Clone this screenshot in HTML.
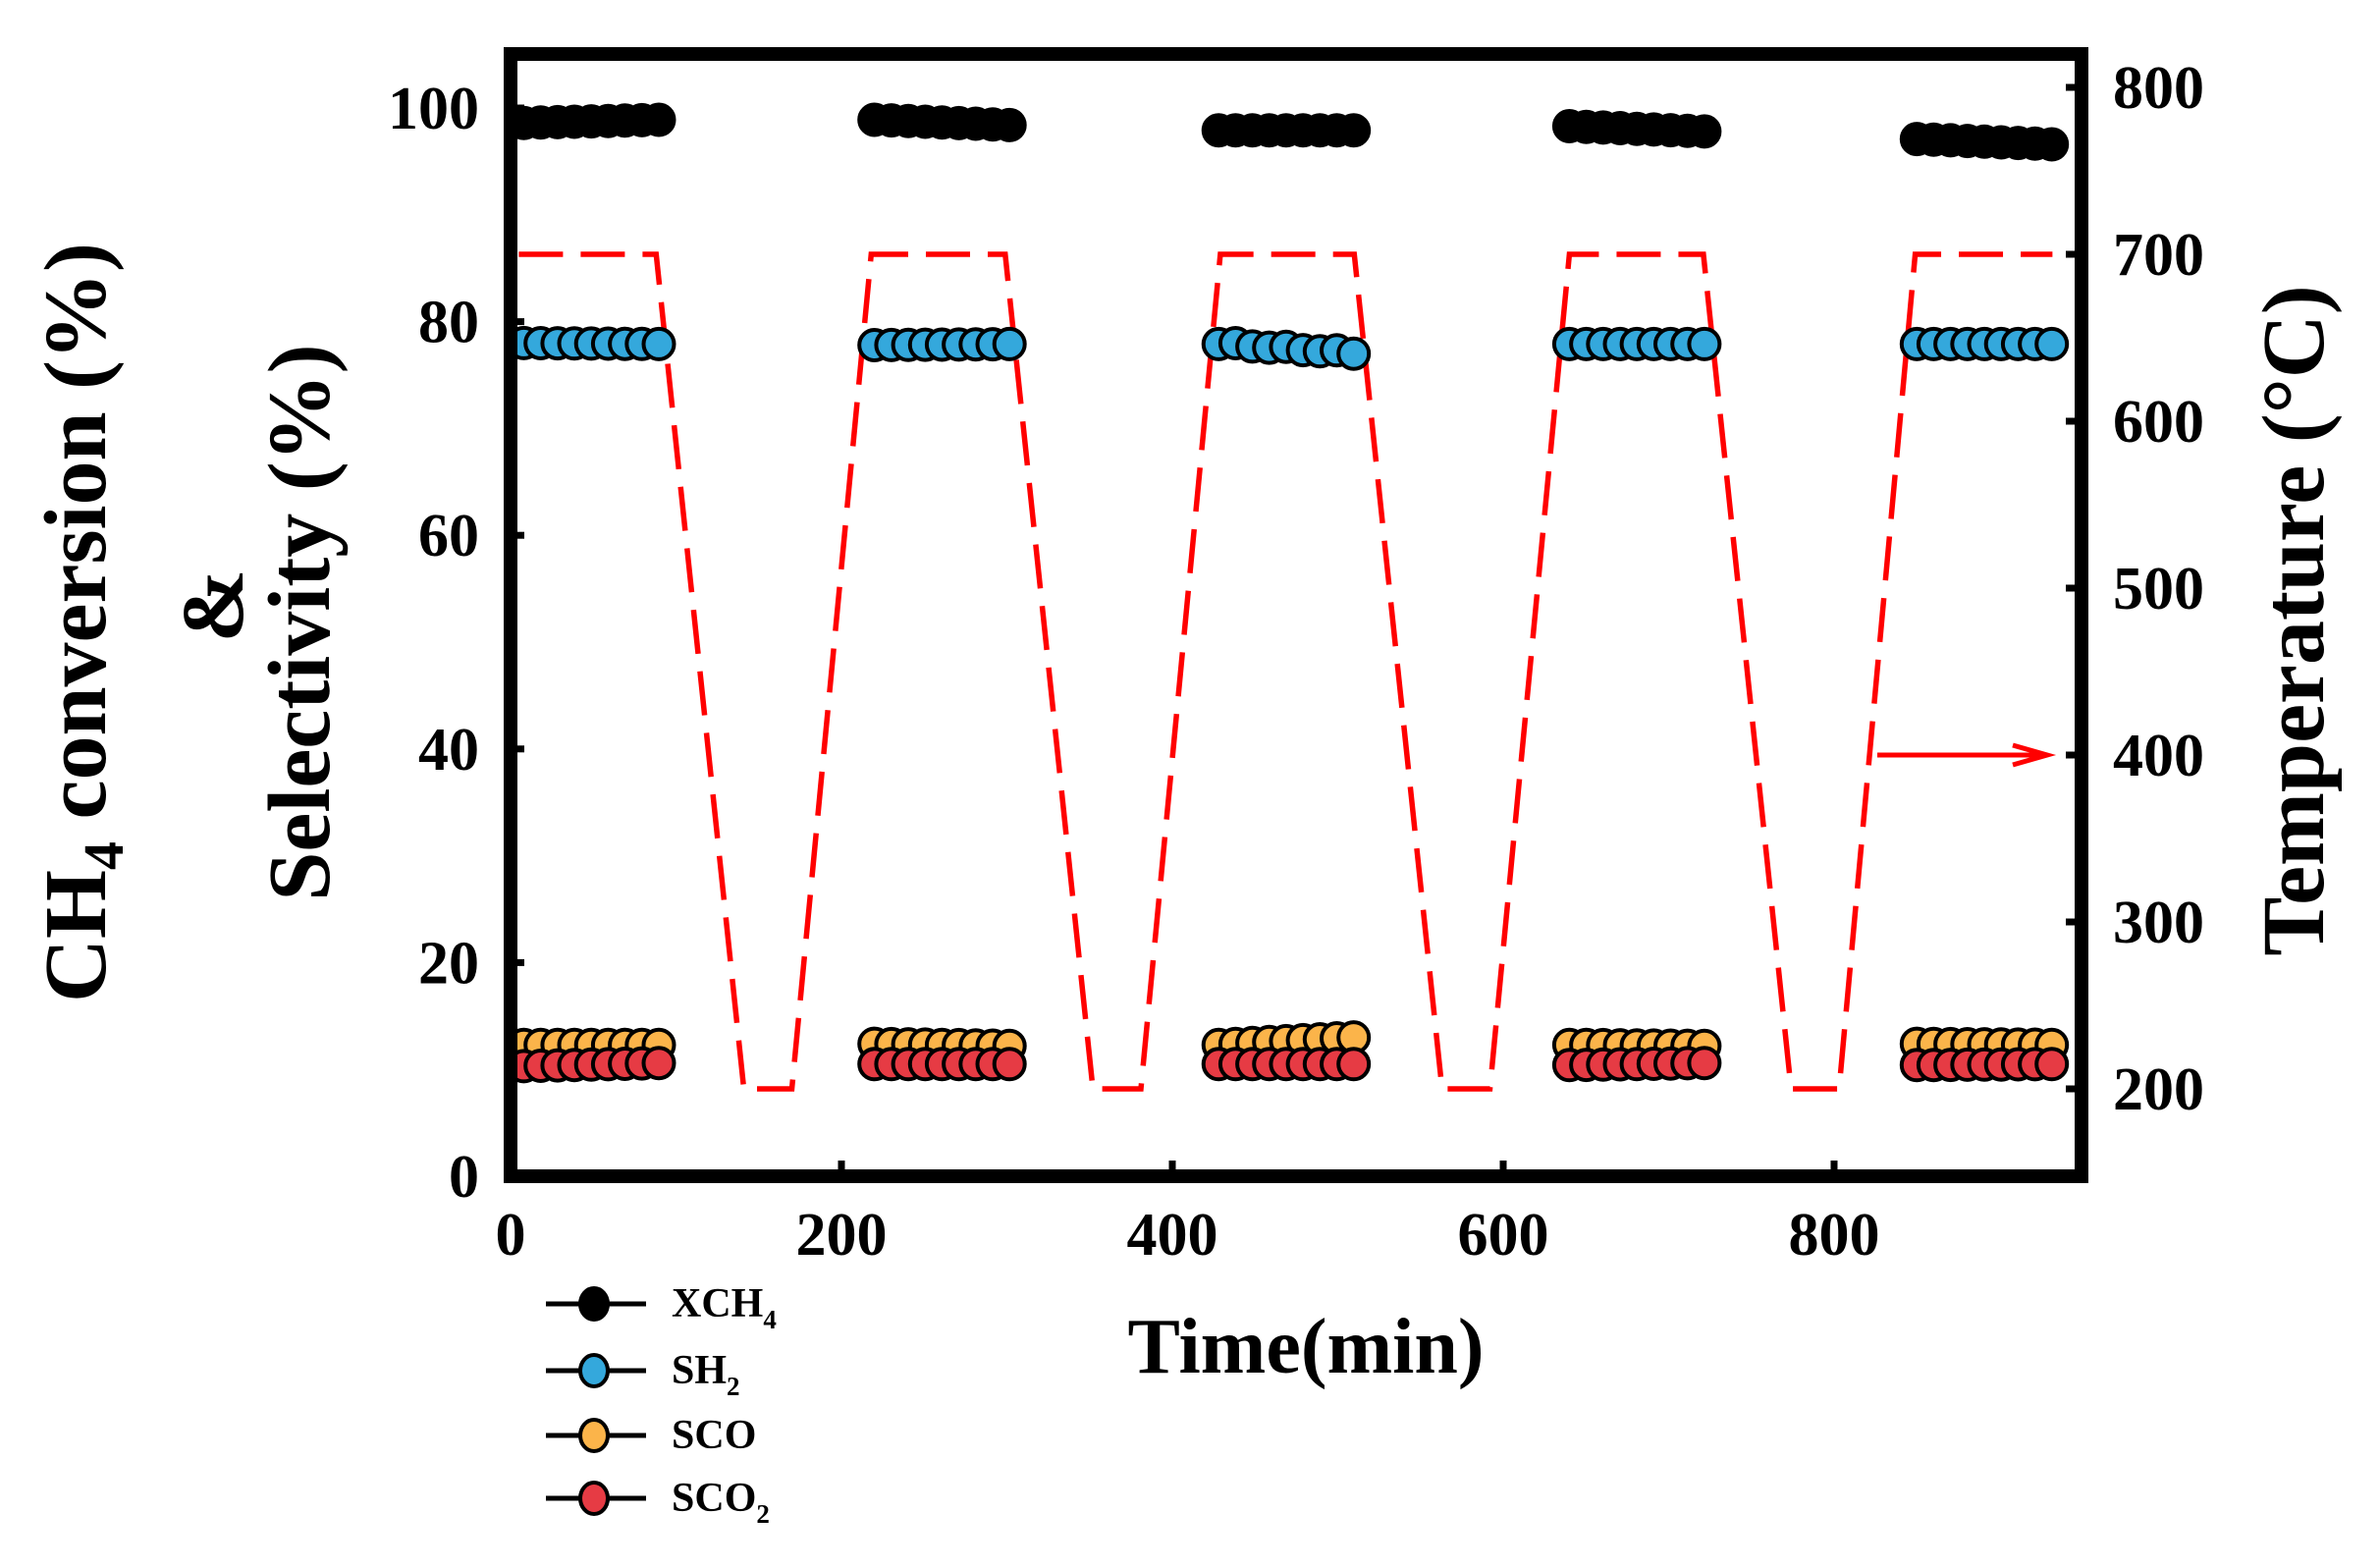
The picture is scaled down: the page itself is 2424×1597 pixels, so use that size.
<!DOCTYPE html>
<html><head><meta charset="utf-8"><style>
html,body{margin:0;padding:0;background:#fff;}
svg{display:block;}
text{font-family:"Liberation Serif","Times New Roman",serif;font-weight:bold;fill:#000;}
</style></head><body>
<svg id="s" width="2424" height="1597" viewBox="0 0 2424 1597" xmlns="http://www.w3.org/2000/svg">
<rect width="2424" height="1597" fill="#fff"/>
<g id="temp"></g>
<g id="pts"></g>
<!-- arrow -->
<line x1="1912" y1="769" x2="2083" y2="769" stroke="#ff0000" stroke-width="5"/>
<polyline points="2050,759 2085,769 2050,779" fill="none" stroke="#ff0000" stroke-width="5"/>
<!-- frame -->
<rect x="520" y="55" width="1600" height="1143" fill="none" stroke="#000" stroke-width="14"/>
<g id="ticks" stroke="#000" stroke-width="7"></g>
<g id="labels" font-size="62"></g>
<!-- axis titles -->
<text transform="translate(107,634) rotate(-90)" text-anchor="middle" font-size="90">CH<tspan font-size="58" dy="18">4</tspan><tspan dy="-18"> conversion (%)</tspan></text>
<text transform="translate(247,617) rotate(-90)" text-anchor="middle" font-size="90">&amp;</text>
<text transform="translate(335,634) rotate(-90)" text-anchor="middle" font-size="90">Selectivity (%)</text>
<text transform="translate(2366,632) rotate(-90)" text-anchor="middle" font-size="90">Temperature (°C)</text>
<text x="1330" y="1398" text-anchor="middle" font-size="80">Time(min)</text>
<!-- legend -->
<g stroke="#000" stroke-width="5">
<line x1="556" y1="1328" x2="658" y2="1328"/>
<line x1="556" y1="1396" x2="658" y2="1396"/>
<line x1="556" y1="1462" x2="658" y2="1462"/>
<line x1="556" y1="1526" x2="658" y2="1526"/>
</g>
<g stroke="#000" stroke-width="4">
<ellipse cx="605" cy="1328" rx="14" ry="16" fill="#000"/>
<ellipse cx="605" cy="1396" rx="14" ry="16" fill="#34a8dc"/>
<ellipse cx="605" cy="1462" rx="14" ry="16" fill="#fbb44a"/>
<ellipse cx="605" cy="1526" rx="14" ry="16" fill="#e63b44"/>
</g>
<g font-size="42">
<text x="684" y="1341">XCH<tspan font-size="27" dy="12">4</tspan></text>
<text x="684" y="1409">SH<tspan font-size="27" dy="12">2</tspan></text>
<text x="684" y="1475">SCO</text>
<text x="684" y="1539">SCO<tspan font-size="27" dy="12">2</tspan></text>
</g>
</svg>
<script>
(function(){
var NS="http://www.w3.org/2000/svg";
function X(t){return 520+t*1.685;}
function YL(v){return 1198-v*10.88;}
function YR(T){return 89+(800-T)*1.70;}
function el(tag,attrs,parent,txt){var e=document.createElementNS(NS,tag);for(var k in attrs)e.setAttribute(k,attrs[k]);if(txt!==undefined)e.textContent=txt;parent.appendChild(e);return e;}
var tp=[[5,700],[88,700],[141,200],[170,200],[218,700],[299,700],[352,200],[381,200],[429,700],[510,700],[563,200],[592,200],[640,700],[721,700],[774,200],[803,200],[849,700],[932,700]];
var d=tp.map(function(p,i){return (i?"L":"M")+X(p[0]).toFixed(1)+","+YR(p[1]).toFixed(1);}).join(" ");
el("path",{d:d,fill:"none",stroke:"#ff0000","stroke-width":5.5,"stroke-dasharray":"45 18"},document.getElementById("temp"));
var starts=[8,220,428,640,850];
var step=10.2;
var series=[
 {c:"#000",v:[[98.6,98.9],[98.9,98.4],[97.9,97.9],[98.3,97.8],[97.1,96.6]]},
 {c:"#34a8dc",v:[[78,77.9],[77.8,77.9],[77.9,77.0],[77.9,77.9],[77.9,77.9]]},
 {c:"#fbb44a",v:[[12.3,12.3],[12.4,12.2],[12.3,13.0],[12.3,12.2],[12.4,12.3]]},
 {c:"#e63b44",v:[[10.3,10.6],[10.5,10.5],[10.5,10.5],[10.4,10.6],[10.4,10.5]]}
];
var g=document.getElementById("pts");
series.forEach(function(s){
 for(var k=0;k<5;k++){
  for(var i=0;i<9;i++){
   var t=starts[k]+i*step;
   var v=s.v[k][0]+(s.v[k][1]-s.v[k][0])*i/8;
   if(k==2&&s.c=="#34a8dc"){v+= (i%3==1?0.2:0);}
   el("circle",{cx:X(t).toFixed(1),cy:YL(v).toFixed(1),r:15.5,fill:s.c,stroke:"#000","stroke-width":4},g);
  }
 }
});
var tk=document.getElementById("ticks"),lb=document.getElementById("labels");
for(var v=0;v<=100;v+=20){var y=YL(v);el("line",{x1:520,y1:y,x2:534,y2:y},tk);el("text",{x:488,y:y+21,"text-anchor":"end"},lb,String(v));}
for(var T=200;T<=800;T+=100){var y2=YR(T);el("line",{x1:2104,y1:y2,x2:2120,y2:y2},tk);el("text",{x:2152,y:y2+21,"text-anchor":"start"},lb,String(T));}
for(var t=0;t<=800;t+=200){var x=X(t);el("line",{x1:x,y1:1182,x2:x,y2:1198},tk);el("text",{x:x,y:1278,"text-anchor":"middle"},lb,String(t));}
})();
</script>
</body></html>
